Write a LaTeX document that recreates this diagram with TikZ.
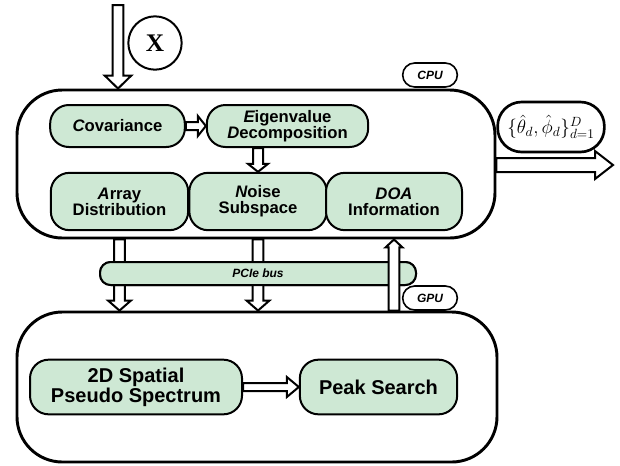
\documentclass[tikz,border=0pt]{standalone}
\usepackage{fontspec}
\setmainfont{Liberation Sans}
\newfontfamily\serifx{Liberation Serif}
\usetikzlibrary{calc}
\definecolor{boxgreen}{RGB}{206,232,212}
% fat outlined arrow: from, to, half shaft, half head, head length (pt)
\newcommand\fatarrow[5]{%
  \draw[fatline] let \p1=($(#2)-(#1)$),\n1={atan2(\y1,\x1)},\n2={veclen(\x1,\y1)} in
    [shift={(#1)},rotate=\n1] (0pt,#3pt) -- ({\n2-#5pt},#3pt) -- ({\n2-#5pt},#4pt) -- (\n2,0pt)
    -- ({\n2-#5pt},-#4pt) -- ({\n2-#5pt},-#3pt) -- (0pt,-#3pt) -- cycle;}
\begin{document}
\begin{tikzpicture}[x=0.75pt,y=-0.75pt,
  unit/.style={draw,line width=2.2pt,rounded corners=34pt},
  task/.style={draw,line width=1.5pt,fill=boxgreen,rounded corners=14pt,align=center,
    font=\fontsize{12.5}{14}\selectfont\bfseries},
  bigtask/.style={task,minimum height=41pt,font=\fontsize{15}{17}\selectfont\bfseries},
  tag/.style={draw,line width=1.2pt,fill=white,rounded corners=9pt,minimum width=41pt,
    minimum height=18pt,inner sep=1pt,font=\fontsize{9}{10}\selectfont\bfseries\itshape},
  fatline/.style={draw,line width=1.5pt,fill=white,line join=miter}]
\useasboundingbox (0,0) rectangle (620,465);
\node[unit,minimum width=358.5pt,minimum height=111pt] (cpu) at (256,164) {};
\node[unit,minimum width=360pt,minimum height=112.5pt] (gpu) at (257,387) {};
\node[tag] (cputag) at (430,75) {CPU};
\node[tag] (gputag) at (430,298) {GPU};
\node[task,minimum width=101pt,minimum height=31.5pt] (cov) at (117.5,126) {{\itshape C}ovariance};
\node[task,minimum width=121pt,minimum height=31.5pt] (eig) at (287.5,126)
  {{\itshape E}igenvalue\\[-2pt]{\itshape D}ecomposition};
\node[task,minimum width=103pt,minimum height=43pt] (arr) at (119.5,201.5) {{\itshape A}rray\\[-2pt]Distribution};
\node[task,minimum width=103pt,minimum height=43pt] (noise) at (258,201.5) {{\itshape N}oise\\[-2pt]Subspace};
\node[task,minimum width=102pt,minimum height=43pt] (doa) at (394,201.5) {{\itshape DOA}\\[-2pt]Information};
\node[bigtask,minimum width=159pt] (spec) at (136,387) {2D Spatial\\[-2pt]Pseudo Spectrum};
\node[bigtask,minimum width=118pt] (peak) at (378.5,387) {Peak Search};
\node[draw,circle,line width=1.5pt,minimum size=40pt,inner sep=0pt,font=\serifx\fontsize{19}{19}\selectfont\bfseries]
  (x) at (155,43) {X};
\node[draw,line width=2pt,rounded corners=18pt,minimum width=80pt,minimum height=37.5pt,inner sep=1pt,
  font=\fontsize{14}{16}\selectfont] (out) at (551,127) {$\{\hat{\theta}_d,\hat{\phi}_d\}_{d=1}^{D}$};
\coordinate (in) at (118,5);
\coordinate (res) at (613,165);
\fatarrow{in}{in |- cpu.north}{4.1}{10}{9.75}
\fatarrow{cov.east}{eig.west}{3}{7.5}{6}
\fatarrow{eig.south -| noise.north}{noise.north}{3.75}{7.5}{6}
\fatarrow{cpu.east |- res}{res}{5.25}{10.5}{13.5}
\foreach \b in {arr,noise}
  \fatarrow{\b.south |- cpu.south}{\b.south |- gpu.north}{4.1}{8.6}{7.5}
\node[task,minimum width=237pt,minimum height=17.25pt,rounded corners=8pt,inner sep=0pt,
  font=\fontsize{9}{10}\selectfont\bfseries\itshape] (bus) at (258,273.5) {PCIe bus};
\fatarrow{doa.south |- gpu.north}{doa.south |- cpu.south}{4.1}{6.4}{6}
\fatarrow{spec.east}{peak.west}{3}{7.5}{9}
\end{tikzpicture}
\end{document}
